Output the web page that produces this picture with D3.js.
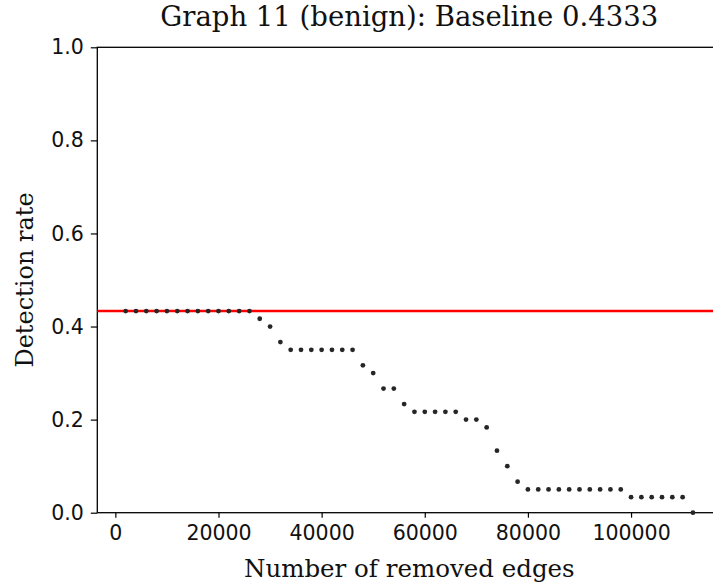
<!DOCTYPE html>
<html>
<head>
<meta charset="utf-8">
<script src="https://cdn.jsdelivr.net/npm/d3@7"></script>
<style>
  html, body { margin: 0; padding: 0; background: #fff; overflow: hidden; }
  svg { display: block; }
</style>
</head>
<body>
<svg id="chart" width="713" height="583"></svg>
<script>
// Detection rate after removing edges, graph 11 (benign)
const titleText = "Graph 11 (benign): Baseline 0.4333";
const xLabel = "Number of removed edges";
const yLabel = "Detection rate";

const baseline = 0.4333;

const removedEdges = [
  2000, 4000, 6000, 8000, 10000, 12000, 14000, 16000, 18000, 20000,
  22000, 24000, 26000, 28000, 30000, 32000, 34000, 36000, 38000, 40000,
  42000, 44000, 46000, 48000, 50000, 52000, 54000, 56000, 58000, 60000,
  62000, 64000, 66000, 68000, 70000, 72000, 74000, 76000, 78000, 80000,
  82000, 84000, 86000, 88000, 90000, 92000, 94000, 96000, 98000, 100000,
  102000, 104000, 106000, 108000, 110000, 112000
];

const detectionRate = [
  0.4333, 0.4333, 0.4333, 0.4333, 0.4333, 0.4333, 0.4333, 0.4333, 0.4333, 0.4333,
  0.4333, 0.4333, 0.4333, 0.4167, 0.4000, 0.3667, 0.3500, 0.3500, 0.3500, 0.3500,
  0.3500, 0.3500, 0.3500, 0.3167, 0.3000, 0.2667, 0.2667, 0.2333, 0.2167, 0.2167,
  0.2167, 0.2167, 0.2167, 0.2000, 0.2000, 0.1833, 0.1333, 0.1000, 0.0667, 0.0500,
  0.0500, 0.0500, 0.0500, 0.0500, 0.0500, 0.0500, 0.0500, 0.0500, 0.0500, 0.0333,
  0.0333, 0.0333, 0.0333, 0.0333, 0.0333, 0.0000
];

const xTicks = [0, 20000, 40000, 60000, 80000, 100000];
const yTicks = [0.0, 0.2, 0.4, 0.6, 0.8, 1.0];

const svg = d3.select("#chart");

const plot = { left: 97.3, right: 721.3, top: 47.3, bottom: 512.7 };

const x = d3.scaleLinear().domain([-3500, 117500]).range([plot.left, plot.right]);
const y = d3.scaleLinear().domain([0, 1]).range([plot.bottom, plot.top]);

const tickFont = "DejaVu Sans, sans-serif";
const labelFont = "DejaVu Serif, serif";

// y axis
const yAxis = svg.append("g")
  .attr("transform", `translate(${plot.left},0)`)
  .call(d3.axisLeft(y).tickValues(yTicks).tickFormat(d3.format(".1f")).tickSize(6.5).tickPadding(7));

// x axis
const xAxis = svg.append("g")
  .attr("transform", `translate(0,${plot.bottom})`)
  .call(d3.axisBottom(x).tickValues(xTicks).tickFormat(d3.format("d")).tickSize(5).tickPadding(8));

[xAxis, yAxis].forEach(g => {
  g.select(".domain").remove();
  g.selectAll(".tick line").attr("stroke", "#000").attr("stroke-width", 1.2);
  g.selectAll(".tick text")
    .attr("fill", "#111")
    .style("font-family", tickFont)
    .style("font-size", "20.5px");
});

// frame (spines)
svg.append("rect")
  .attr("x", plot.left).attr("y", plot.top)
  .attr("width", plot.right - plot.left).attr("height", plot.bottom - plot.top)
  .attr("fill", "none").attr("stroke", "#000").attr("stroke-width", 1.3);

// baseline
svg.append("line")
  .attr("x1", plot.left).attr("x2", plot.right)
  .attr("y1", y(baseline)).attr("y2", y(baseline))
  .attr("stroke", "#ff0000").attr("stroke-width", 2.4);

// points
svg.append("g").selectAll("circle")
  .data(removedEdges.map((e, i) => ({ e, r: detectionRate[i] })))
  .join("circle")
  .attr("cx", d => x(d.e))
  .attr("cy", d => y(d.r))
  .attr("r", 2.4)
  .attr("fill", "#262626");

// title
svg.append("text")
  .attr("x", (plot.left + plot.right) / 2).attr("y", 26)
  .attr("text-anchor", "middle")
  .style("font-family", labelFont).style("font-size", "27.5px")
  .attr("fill", "#111")
  .text(titleText);

// x label
svg.append("text")
  .attr("x", (plot.left + plot.right) / 2).attr("y", 577)
  .attr("text-anchor", "middle")
  .style("font-family", labelFont).style("font-size", "24.5px")
  .attr("fill", "#111")
  .text(xLabel);

// y label
svg.append("text")
  .attr("transform", `translate(33,${(plot.top + plot.bottom) / 2}) rotate(-90)`)
  .attr("text-anchor", "middle")
  .style("font-family", labelFont).style("font-size", "24px")
  .attr("fill", "#111")
  .text(yLabel);
</script>
</body>
</html>
